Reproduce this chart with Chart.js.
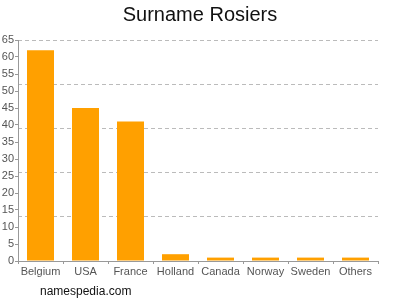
<!DOCTYPE html>
<html>
<head>
<meta charset="utf-8">
<script src="https://cdn.jsdelivr.net/npm/chart.js@4/dist/chart.umd.min.js"></script>
<style>
  html, body { margin: 0; padding: 0; background: #fff; }
  #wrap { position: relative; width: 400px; height: 300px; }
  #footer {
    position: absolute; left: 40px; top: 284px;
    font: 12px "Liberation Sans", Arial, sans-serif; color: #111;
  }
</style>
</head>
<body>
<div id="wrap">
  <canvas id="chart" width="400" height="300"></canvas>
  <div id="footer">namespedia.com</div>
</div>
<script>
/* DATA */
const countries = ["Belgium", "USA", "France", "Holland", "Canada", "Norway", "Sweden", "Others"];
const counts = [62, 45, 41, 2, 1, 1, 1, 1];
const yMax = 65;
const labelStep = 5;
const gridStep = 13;

const FONT = "'Liberation Sans', Arial, sans-serif";

new Chart(document.getElementById("chart"), {
  type: "bar",
  data: {
    labels: countries,
    datasets: [{
      data: counts,
      backgroundColor: "#ffa000",
      categoryPercentage: 0.6,
      barPercentage: 1.0,
    }],
  },
  options: {
    responsive: false,
    animation: false,
    layout: { padding: 0 },
    plugins: {
      legend: { display: false },
      tooltip: { enabled: false },
      title: {
        display: true,
        text: "Surname Rosiers",
        color: "#111",
        font: { family: FONT, size: 20, weight: "normal" },
        padding: { top: 3, bottom: 13 },
      },
    },
    scales: {
      x: {
        grid: { drawOnChartArea: false, tickLength: 3, color: "#999" },
        border: { color: "#999" },
        ticks: { color: "#555", font: { family: FONT, size: 11 }, padding: 1, maxRotation: 0 },
        afterFit: (s) => { s.height = 39; },
      },
      y: {
        min: 0,
        max: yMax,
        grid: { drawOnChartArea: false, tickLength: 3, color: "#999" },
        border: { color: "#999" },
        ticks: { stepSize: labelStep, color: "#555", font: { family: FONT, size: 11 }, padding: 1 },
        afterFit: (s) => { s.width = 18; },
      },
      y2: {
        position: "right",
        min: 0,
        max: yMax,
        grid: { drawTicks: false, color: "#bbb", lineWidth: 1 },
        border: { display: false, dash: [4, 3] },
        ticks: { stepSize: gridStep, display: false },
        afterFit: (s) => { s.width = 22; },
      },
    },
  },
});
</script>
</body>
</html>
